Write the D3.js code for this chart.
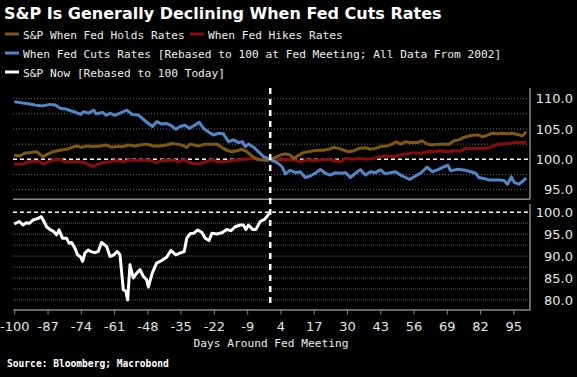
<!DOCTYPE html>
<html>
<head>
<meta charset="utf-8">
<script src="https://cdn.jsdelivr.net/npm/d3@7"></script>
<style>
body { margin: 0; background: #000; }
</style>
</head>
<body>
<svg id="chart" width="577" height="377"></svg>
<script>

// [day around Fed meeting, value]
var holds = [[-100,100.7],[-98,100.55],[-96,101.0],[-94,101.1],[-91.3,101.25],[-88.8,100.45],[-86.8,100.9],[-84.8,101.25],[-82.2,101.5],[-79.6,101.65],[-77.6,101.97],[-75.7,102.2],[-73.7,101.97],[-71.8,102.2],[-69.2,102.1],[-66.6,102.2],[-63.9,102.35],[-62,101.97],[-60,102.1],[-57.4,102.1],[-55.5,102.35],[-52.9,102.2],[-50.9,102.35],[-48.3,102.5],[-45.7,102.2],[-43.1,102.2],[-40.4,102.35],[-38.5,102.6],[-36.5,102.5],[-34.6,102.35],[-32.6,101.97],[-31.3,102.5],[-28.1,102.2],[-25.4,102.5],[-22.8,102.5],[-20.9,102.5],[-18.9,101.97],[-17,101.5],[-15,101.25],[-13,101.4],[-11.1,101.65],[-9.1,101.25],[-7.2,100.55],[-5.2,100.0],[-3.2,99.9],[-1.3,99.8],[0,100],[2.0,100.3],[3.9,100.7],[5.9,100.9],[7.8,100.7],[9.1,100.15],[11.1,100.7],[13.0,101.1],[15.0,101.25],[17.0,101.4],[18.9,101.5],[20.9,101.5],[22.8,101.65],[24.8,101.97],[26.7,101.8],[28.7,101.5],[30.7,101.25],[32.6,101.4],[34.6,101.8],[37.2,101.9],[39.2,101.65],[41.1,101.8],[43.1,102.1],[45.7,102.2],[47.6,102.5],[49.3,102.9],[50.9,102.5],[52.9,102.9],[54.8,102.75],[57.4,102.75],[59.4,103.06],[61.3,102.5],[63.3,102.35],[65.3,102.5],[67.8,102.5],[69.8,102.5],[71.8,103.06],[73.7,103.2],[75.7,103.6],[77.6,103.85],[79.6,104.0],[81.5,104.0],[82.9,103.7],[84.8,104.0],[86.8,104.3],[88.8,104.2],[90.7,104.3],[92.7,104.2],[94.6,104.3],[96.6,104.1],[98.5,103.85],[100,104.55]];

var hikes = [[-100,99.2],[-96.6,99.2],[-94.6,99.6],[-92,99.7],[-90,99.6],[-88.8,99.2],[-86.8,99.6],[-84.2,99.9],[-82.2,100.0],[-80.3,99.6],[-77.6,99.6],[-75,99.6],[-72.4,99.45],[-69.4,98.8],[-67.2,99.2],[-65.3,99.45],[-62.6,99.6],[-60,99.8],[-57.4,99.6],[-54.8,99.9],[-52.2,99.8],[-49.6,99.9],[-47,99.8],[-44.4,99.45],[-42.4,99.8],[-40.4,99.8],[-37.9,99.9],[-35.9,99.6],[-33.9,99.9],[-30.7,99.35],[-28.1,99.2],[-25.4,99.6],[-22.8,99.9],[-20.2,99.6],[-17.6,99.6],[-15,99.8],[-12.4,99.9],[-9.8,100.0],[-7.2,100.15],[-4.6,100.0],[-1.3,99.9],[0,100],[1.3,99.8],[3.9,99.9],[6.5,100.0],[9.1,99.9],[11.7,99.6],[14.4,99.9],[17.0,99.8],[19.6,99.9],[22.2,100.0],[24.8,99.8],[27.4,99.6],[29.4,100.15],[32.0,100.0],[34.6,100.15],[37.9,100.0],[40.4,100.15],[43.1,100.45],[45.7,100.55],[48.3,100.45],[50.9,100.7],[53.5,100.9],[56.1,101.1],[58.7,101.0],[61.3,101.25],[63.9,101.25],[66.6,101.4],[69.2,101.25],[71.8,101.4],[74.4,101.35],[76.3,101.8],[79.0,101.8],[81.5,101.8],[84.2,101.8],[86.1,101.97],[88.1,102.35],[90.0,102.5],[92.7,102.6],[95.3,102.75],[97.9,102.75],[100,102.75]];

var cuts = [[-100,109.5],[-97,109.3],[-94,109.1],[-92,108.95],[-89,108.8],[-86,109.05],[-84,108.95],[-82,108.4],[-80,108.3],[-78,108.0],[-76,107.75],[-74,107.4],[-73,107.85],[-71,107.6],[-69,108.1],[-68,107.5],[-65.5,107.7],[-64,107.25],[-62.6,107.6],[-60.7,107.25],[-58.7,107.6],[-56,108.1],[-54,107.4],[-51.6,107.3],[-49.6,106.6],[-47.6,105.9],[-46,105.4],[-44.4,106.2],[-42.4,105.8],[-40.4,105.9],[-38.5,105.5],[-36.9,104.95],[-35.2,105.4],[-33.3,105.6],[-31.6,105.1],[-29.4,105.65],[-27.7,106.1],[-26.1,105.1],[-24.2,104.55],[-22.2,104.0],[-20.2,104.3],[-18.3,104.2],[-16.3,102.9],[-14.4,103.2],[-12.4,102.75],[-10.8,102.9],[-9.8,102.1],[-8.5,102.5],[-6.5,102.0],[-4.6,101.25],[-2.6,100.45],[0,100],[2.6,99.45],[4.6,98.8],[5.9,97.6],[7.8,98.2],[9.8,97.8],[11.7,97.95],[13.7,97.0],[15.7,97.25],[17.6,97.7],[19.6,98.35],[21.5,97.7],[23.5,97.4],[25.4,97.8],[27.4,97.7],[29.4,97.8],[31.3,97.0],[33.3,97.7],[35.2,98.3],[37.2,97.4],[39.2,97.95],[41.1,97.8],[43.1,98.25],[45.0,97.6],[47.0,97.8],[48.9,97.95],[50.9,97.4],[52.9,97.0],[54.5,96.7],[56.8,97.25],[58.7,97.7],[61.3,98.7],[63.3,97.95],[65.3,98.25],[67.6,98.7],[69.4,99.05],[70.5,98.1],[73.1,98.35],[75.7,98.25],[78.3,97.95],[80.3,97.7],[81.5,97.0],[83.5,96.85],[85.5,96.6],[87.4,96.6],[89.4,96.6],[91.3,96.5],[92.7,95.9],[94.2,97.1],[95.5,96.15],[97.2,95.9],[98.9,96.5],[100,96.9]];

var spxNow = [[-100,97.35],[-98,97.9],[-96.6,97.1],[-95.3,97.6],[-94,97.5],[-92.7,98.25],[-90.7,98.6],[-89.4,99.0],[-88.4,97.9],[-87.4,96.7],[-86.1,96.1],[-84.6,95.6],[-83.5,94.85],[-82.5,96.0],[-81.2,94.1],[-79.6,94.1],[-78.6,92.95],[-77.6,93.1],[-76.3,91.8],[-75.3,90.3],[-74.1,89.8],[-73.3,88.8],[-72.4,90.7],[-71.1,91.4],[-70.2,91.05],[-68.5,90.8],[-67.2,91.05],[-65.9,93.1],[-63.9,92.2],[-62.6,89.9],[-61.1,90.3],[-59.8,91.05],[-58.7,90.3],[-57.4,82.3],[-56.4,81.95],[-55.7,80.0],[-54.8,88.0],[-53.5,85.0],[-52.2,86.1],[-50.9,86.9],[-49.6,85.4],[-48.3,84.6],[-47.6,82.95],[-46.1,86.1],[-44.4,88.4],[-42.4,89.0],[-40.4,89.8],[-38.8,91.3],[-36.9,90.3],[-34.8,90.8],[-33.6,91.05],[-32.6,94.1],[-31.3,95.1],[-30.0,95.2],[-28.3,95.95],[-26.7,95.4],[-25.4,94.1],[-23.9,93.55],[-22.8,95.2],[-20.9,95.05],[-18.9,95.35],[-17.0,96.1],[-15.3,95.8],[-13.7,96.7],[-11.7,97.1],[-10.5,97.1],[-9.5,96.1],[-8.5,97.1],[-6.9,96.1],[-5.6,96.1],[-3.9,97.9],[-2.2,98.4],[0,100]];

var xTicks = [-100,-87,-74,-61,-48,-35,-22,-9,4,17,30,43,56,69,82,95];
var topGrid = [95,97.5,102.5,105,107.5,110];
var topLabels = [95,100,105,110];
var botGrid = [80,82.5,85,87.5,90,92.5,95,97.5];
var botLabels = [80,85,90,95,100];

var legendItems = [
    ["S&P When Fed Holds Rates", "#7f5a0e", 5, 34],
    ["When Fed Hikes Rates", "#8a0c0c", 190, 34],
    ["When Fed Cuts Rates [Rebased to 100 at Fed Meeting; All Data From 2002]", "#4f88c8", 5, 53],
    ["S&P Now [Rebased to 100 Today]", "#ffffff", 5, 72]
];

var svg = d3.select("#chart");
svg.append("rect").attr("width", 577).attr("height", 377).attr("fill", "#000");

var left = 13, right = 530;
var x = d3.scaleLinear().domain([-100.5, 101.5]).range([left, right]);
var yTop = d3.scaleLinear().domain([93.41, 111.75]).range([199.3, 88]);
var yBot = d3.scaleLinear().domain([77.8, 101.9]).range([309.5, 204]);

// title + legend
svg.append("text")
    .attr("x", 4).attr("y", 19)
    .attr("font-family", "DejaVu Sans").attr("font-weight", "bold")
    .attr("font-size", 16).attr("fill", "#fff")
    .text("S&P Is Generally Declining When Fed Cuts Rates");

var leg = svg.append("g").selectAll("g").data(legendItems).enter().append("g");
leg.append("line")
    .attr("x1", d => d[2]).attr("x2", d => d[2] + 14)
    .attr("y1", d => d[3]).attr("y2", d => d[3])
    .attr("stroke", d => d[1]).attr("stroke-width", 3);
leg.append("text")
    .attr("x", d => d[2] + 18).attr("y", d => d[3] + 4.5)
    .attr("font-family", "DejaVu Sans Mono").attr("font-size", 11.2)
    .attr("fill", "#eee")
    .text(d => d[0]);

// gridlines
svg.append("g").selectAll("line").data(topGrid).enter().append("line")
    .attr("x1", left).attr("x2", right)
    .attr("y1", d => yTop(d)).attr("y2", d => yTop(d))
    .attr("stroke", "#666").attr("stroke-width", 1).attr("stroke-dasharray", "1,2");
svg.append("g").selectAll("line").data(botGrid).enter().append("line")
    .attr("x1", left).attr("x2", right)
    .attr("y1", d => yBot(d)).attr("y2", d => yBot(d))
    .attr("stroke", "#555").attr("stroke-width", 1).attr("stroke-dasharray", "1,1");

// 100 reference lines
svg.append("line").attr("x1", left).attr("x2", right)
    .attr("y1", yTop(100)).attr("y2", yTop(100))
    .attr("stroke", "#fff").attr("stroke-width", 1.5).attr("stroke-dasharray", "4,3");
svg.append("line").attr("x1", left).attr("x2", right)
    .attr("y1", yBot(100)).attr("y2", yBot(100))
    .attr("stroke", "#fff").attr("stroke-width", 1.5).attr("stroke-dasharray", "4,3");

// panel frame
svg.append("line").attr("x1", left).attr("x2", right).attr("y1", 199.3).attr("y2", 199.3)
    .attr("stroke", "#888").attr("stroke-width", 1.5);
svg.append("line").attr("x1", right).attr("x2", right).attr("y1", 88).attr("y2", 199.3)
    .attr("stroke", "#888").attr("stroke-width", 1.5);
svg.append("line").attr("x1", right).attr("x2", right).attr("y1", 204).attr("y2", 309.5)
    .attr("stroke", "#888").attr("stroke-width", 1.5);

// right axes
function rightLabels(vals, scale) {
    svg.append("g").selectAll("text").data(vals).enter().append("text")
        .attr("x", 573).attr("y", d => scale(d)).attr("dy", "0.36em")
        .attr("text-anchor", "end")
        .attr("font-family", "DejaVu Sans").attr("font-size", 13).attr("fill", "#e6e6e6")
        .text(d => d3.format(".1f")(d));
}
rightLabels(topLabels, yTop);
rightLabels(botLabels, yBot);

// x axis
var xAxis = svg.append("g")
    .attr("transform", "translate(0,309.5)")
    .call(d3.axisBottom(x).tickValues(xTicks).tickSize(5).tickSizeOuter(0).tickPadding(7).tickFormat(d3.format("d")));
xAxis.select(".domain").attr("stroke", "#888").attr("stroke-width", 1.5);
xAxis.selectAll(".tick line").attr("stroke", "#888");
xAxis.selectAll(".tick text")
    .attr("font-family", "DejaVu Sans").attr("font-size", 13).attr("fill", "#e6e6e6")
    .text(d => String(d).replace("\u2212", "-"));

svg.append("text")
    .attr("x", 271).attr("y", 347).attr("text-anchor", "middle")
    .attr("font-family", "DejaVu Sans Mono").attr("font-size", 11.2).attr("fill", "#eee")
    .text("Days Around Fed Meeting");

svg.append("text")
    .attr("x", 7).attr("y", 367)
    .attr("font-family", "DejaVu Sans Mono").attr("font-weight", "bold")
    .attr("font-size", 9.6).attr("fill", "#fff")
    .text("Source: Bloomberg; Macrobond");

// series
var lineTop = d3.line().x(d => x(d[0])).y(d => yTop(d[1]));
var lineBot = d3.line().x(d => x(d[0])).y(d => yBot(d[1]));

svg.append("path").datum(hikes).attr("d", lineTop)
    .attr("fill", "none").attr("stroke", "#8a0c0c").attr("stroke-width", 3).attr("stroke-linejoin", "round");
svg.append("path").datum(holds).attr("d", lineTop)
    .attr("fill", "none").attr("stroke", "#7f5a0e").attr("stroke-width", 3).attr("stroke-linejoin", "round");
svg.append("path").datum(cuts).attr("d", lineTop)
    .attr("fill", "none").attr("stroke", "#4f88c8").attr("stroke-width", 3).attr("stroke-linejoin", "round");
svg.append("path").datum(spxNow).attr("d", lineBot)
    .attr("fill", "none").attr("stroke", "#fff").attr("stroke-width", 3).attr("stroke-linejoin", "round");

// Fed meeting marker
svg.append("line")
    .attr("x1", x(0)).attr("x2", x(0)).attr("y1", 88).attr("y2", 307)
    .attr("stroke", "#fff").attr("stroke-width", 2.5).attr("stroke-dasharray", "6,5");

</script>
</body>
</html>
